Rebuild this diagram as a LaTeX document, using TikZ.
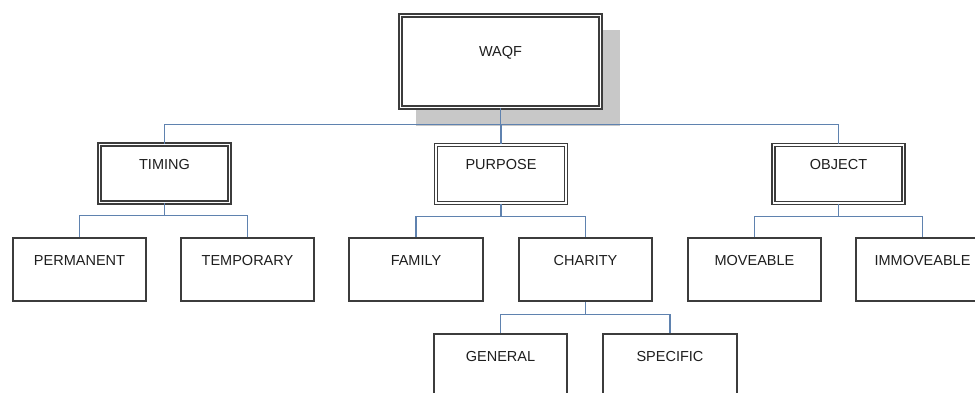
\documentclass[tikz,border=0pt]{standalone}
\usepackage{fontspec}
\setmainfont{Liberation Sans}
\definecolor{boxline}{RGB}{60,60,60}
\definecolor{conn}{RGB}{95,130,175}
\definecolor{shadowgray}{RGB}{200,200,200}
\definecolor{txt}{RGB}{30,30,30}
\begin{document}
\begin{tikzpicture}[x=1pt,y=-1pt,
  lbl/.style={font=\fontsize{14.5}{17}\selectfont, text=txt, inner sep=0pt,
              text height=10.5pt, text depth=19pt},
  singlebox/.style={lbl, draw=boxline, fill=white, line width=1.6pt, rectangle,
              minimum width=133.5pt, minimum height=63.5pt},
  dblbox/.style={lbl, draw=boxline, fill=white, line width=1.5pt, double=white, double distance=1.8pt,
              rectangle, minimum width=130pt, minimum height=58pt},
  topbox/.style={dblbox, minimum width=200pt, minimum height=92pt, text depth=21pt},
  link/.style={draw=conn, line width=1.1pt}
]
\useasboundingbox[fill=white] (0,0) rectangle (975,392);
% shadow of the top box
\fill[shadowgray] (416,30) rectangle (620,126);
% nodes
\node[topbox] (waqf) at (500.5,61.5) {WAQF};
\node[dblbox] (timing) at (164.5,173.5) {TIMING};
\node[dblbox] (purpose) at (501,174) {PURPOSE};
\node[dblbox] (object) at (838.5,174) {OBJECT};
\node[singlebox] (perm) at (79.5,269.5) {PERMANENT};
\node[singlebox] (temp) at (247.5,269.5) {TEMPORARY};
\node[singlebox] (family) at (416,269.5) {FAMILY};
\node[singlebox] (charity) at (585.5,269.5) {CHARITY};
\node[singlebox] (move) at (754.5,269.5) {MOVEABLE};
\node[singlebox] (immove) at (922.5,269.5) {IMMOVEABLE};
\node[singlebox] (general) at (500.5,365.5) {GENERAL};
\node[singlebox] (specific) at (670,365.5) {SPECIFIC};
% connectors
\coordinate (busA) at ([yshift=-16.5pt]waqf.south);
\draw[link] (waqf.south) -- (busA) -| (timing.north);
\draw[link] (busA) -| (purpose.north);
\draw[link] (busA) -| (object.north);
\coordinate (busT) at ([yshift=-12.5pt]timing.south);
\draw[link] (timing.south) -- (busT) -| (perm.north);
\draw[link] (busT) -| (temp.north);
\coordinate (busP) at ([yshift=-12.5pt]purpose.south);
\draw[link] (purpose.south) -- (busP) -| (family.north);
\draw[link] (busP) -| (charity.north);
\coordinate (busO) at ([yshift=-12.5pt]object.south);
\draw[link] (object.south) -- (busO) -| (move.north);
\draw[link] (busO) -| (immove.north);
\coordinate (busC) at ([yshift=-12pt]charity.south);
\draw[link] (charity.south) -- (busC) -| (general.north);
\draw[link] (busC) -| (specific.north);
\end{tikzpicture}
\end{document}
